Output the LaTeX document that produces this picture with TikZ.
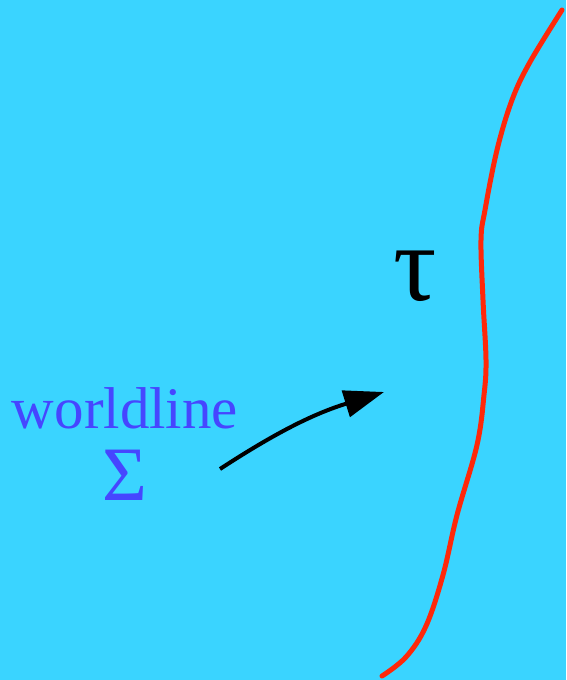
\documentclass[tikz,border=0pt]{standalone}
\usepackage{fontspec}
\setmainfont{Liberation Serif}
\usetikzlibrary{arrows.meta}
\definecolor{bgcyan}{RGB}{58,212,255}
\definecolor{wlred}{RGB}{255,40,10}
\definecolor{lblblue}{RGB}{70,70,255}
\tikzset{
  lbl/.style={inner sep=0pt, anchor=base},
  worldpath/.style={draw=wlred, line width=5pt, line cap=round},
  pointer/.style={draw=black, line width=4pt, -{Triangle[length=40pt,width=27pt]}}
}
\begin{document}
\begin{tikzpicture}[x=1pt,y=-1pt]
\fill[bgcyan] (0,0) rectangle (566,680);
\useasboundingbox (0,0) rectangle (566,680);
\draw[worldpath] plot[smooth, tension=0.6] coordinates {(562,10) (530,62) (512,100) (497,150) (485,210) (481,240) (483,300) (486,360) (484,395) (477,445) (457,515) (443,575) (426,626) (406,657) (382,676)};
\node[lbl, text=lblblue, font=\fontsize{59}{60}\selectfont] (wl) at (125,428) {worldline};
\node[lbl, text=lblblue, font=\fontsize{77}{78}\selectfont] (sig) at (125,500) {Σ};
\node[lbl, text=black, font=\fontsize{108}{110}\selectfont] (tau) at (415,300) {τ};
\coordinate (atail) at (220,469);
\coordinate (ahead) at (384,392);
\draw[pointer] (atail) to[bend left=8] (ahead);
\end{tikzpicture}
\end{document}
